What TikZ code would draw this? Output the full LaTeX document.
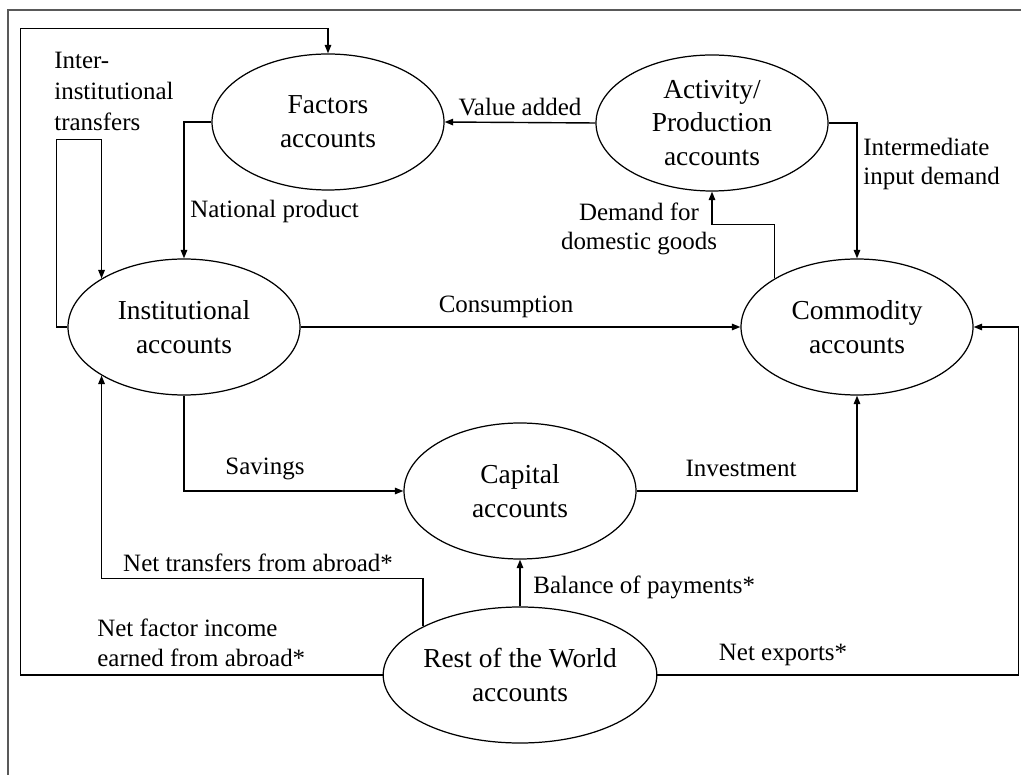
\documentclass[tikz,border=0pt]{standalone}
\usepackage{fontspec}
\setmainfont{Liberation Serif}
\usetikzlibrary{shapes.geometric,arrows.meta,calc}

\tikzset{
  acct/.style={ellipse,draw,line width=0.7pt,minimum width=4.64cm,minimum height=2.72cm,
    inner sep=0pt,align=center,font=\fontsize{15.6}{19.2}\selectfont},
  flow/.style={line width=0.8pt,-{Triangle[length=1.7mm,width=1.3mm]}},
  lbl/.style={inner sep=0pt,font=\fontsize{14.2}{16.8}\selectfont}
}

\begin{document}
\begin{tikzpicture}
\useasboundingbox (0,0) rectangle (20.42,15.5);
\draw[black!65,line width=1.2pt] (20.42,15.3) -- (0.16,15.3) -- (0.16,0);

% accounts
\node[acct] (factors) at (6.56,13.06) {Factors\\accounts};
\node[acct] (activity) at (14.24,13.04) {Activity/\\Production\\accounts};
\node[acct] (inst) at (3.68,8.96) {Institutional\\accounts};
\node[acct] (comm) at (17.14,8.96) {Commodity\\accounts};
\node[acct] (capital) at (10.40,5.68) {Capital\\accounts};
\node[acct] (row) at (10.40,2.00) {Rest of the World\\accounts};

% flows
\draw[flow] (activity.west) -- (factors.east);
\draw[flow] (factors.west) -| (inst.north);
\draw[flow] (inst.west) -- ++(-0.22,0) |- ([yshift=2.78cm]inst.north west) -- (inst.north west);
\draw[flow] (row.west) -- ++(-7.24,0) |- ([yshift=0.5cm]factors.north) -- (factors.north);
\draw[flow] (row.north west) -- ++(0,0.96) -| (inst.south west);
\draw[flow] (row.north) -- (capital.south);
\draw[flow] (row.east) -- ++(7.22,0) |- (comm.east);
\draw[flow] (inst.south) |- (capital.west);
\draw[flow] (capital.east) -| (comm.south);
\draw[flow] (inst.east) -- (comm.west);
\draw[flow] (activity.east) -| (comm.north);
\draw[flow] (comm.north west) |- ([yshift=-0.66cm]activity.south) -- (activity.south);

% labels
\node[lbl,above=0.12cm] (lblva) at ($(activity.west)!0.5!(factors.east)$) {Value added};
\node[lbl,anchor=west] (lblnp) at (3.80,11.26) {National product};
\node[lbl,anchor=north west,align=left,font=\fontsize{14.2}{17.6}\selectfont] (lblinter) at (1.08,14.46) {Inter-\\institutional\\transfers};
\node[lbl] (lblcons) at (10.12,9.36) {Consumption};
\node[lbl,align=center] (lbldem) at (12.78,10.92) {Demand for\\domestic goods};
\node[lbl,anchor=west,align=left] (lblint) at (17.26,12.22) {Intermediate\\input demand};
\node[lbl] (lblsav) at (5.30,6.12) {Savings};
\node[lbl] (lblinv) at (14.82,6.14) {Investment};
\node[lbl] (lbltr) at (5.16,4.24) {Net transfers from abroad*};
\node[lbl,anchor=west] (lblbop) at (10.66,3.76) {Balance of payments*};
\node[lbl,anchor=west,align=left] (lblnfi) at (1.94,2.64) {Net factor income\\earned from abroad*};
\node[lbl] (lblnx) at (15.66,2.40) {Net exports*};
\end{tikzpicture}
\end{document}
